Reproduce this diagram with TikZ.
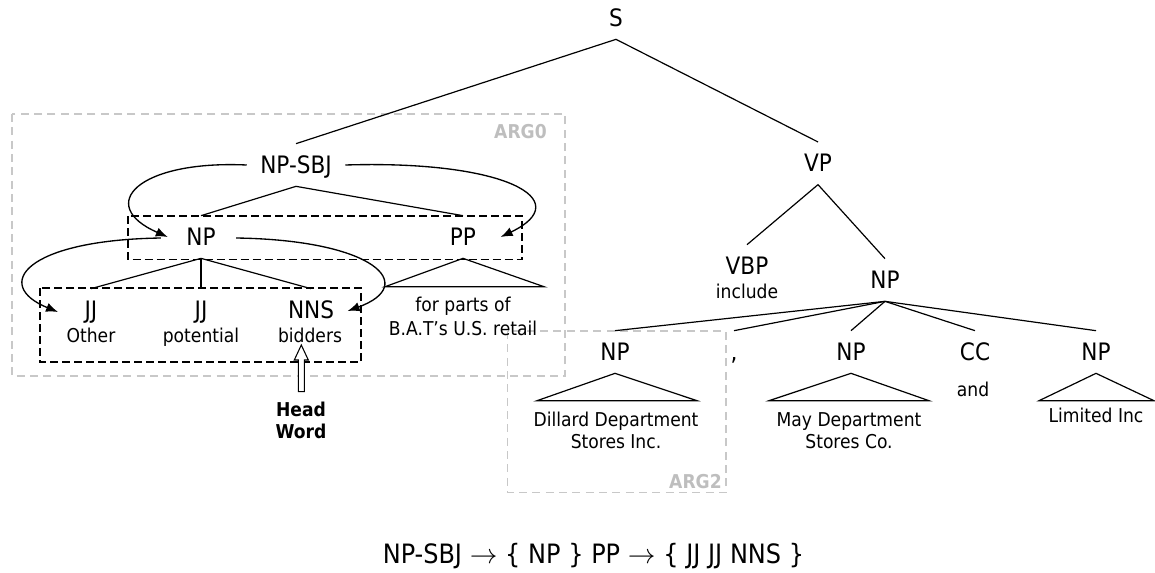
\documentclass[tikz,border=0pt]{standalone}
\usepackage{fontspec}
\setmainfont{DejaVu Sans Condensed}
\usetikzlibrary{arrows.meta,calc}
\definecolor{argtext}{RGB}{190,190,190}
\definecolor{argline}{RGB}{200,200,200}
\begin{document}
\begin{tikzpicture}[x=0.75pt,y=-0.75pt,
  lbl/.style={font=\fontsize{18}{20}\selectfont, text height=13pt, text depth=0pt, inner xsep=10pt, inner ysep=9.3pt},
  word/.style={font=\fontsize{14.3}{16}\selectfont, inner sep=0pt, anchor=base},
  bword/.style={font=\fontsize{14.3}{16}\selectfont\bfseries, inner sep=0pt, anchor=base},
  argl/.style={font=\fontsize{14.3}{16}\selectfont\bfseries, text=argtext, inner sep=0pt, anchor=base east},
  edge/.style={line width=0.9pt},
  argbox/.style={draw=argline, line width=1pt, dash pattern=on 6pt off 4pt},
  grpbox/.style={draw=black, line width=1pt, dash pattern=on 6pt off 3pt},
  arr/.style={line width=1pt, -{Latex[length=9pt,width=7pt]}},
]
\useasboundingbox (0,0) rectangle (1155,572);

% argument frames
\draw[argbox] (12,114) rectangle (565,376);
\draw[argbox] (507.5,331) rectangle (726,492.7);
\node[argl] (arg0) at (547,138.5) {ARG0};
\node[argl] (arg2) at (722,488.5) {ARG2};

% group frames
\draw[grpbox] (128,216) rectangle (522,259.3);
\draw[grpbox] (40,288) rectangle (361,362);

% labels
\node[lbl] (s) at (616,18) {S};
\node[lbl] (npsbj) at (296,165) {NP-SBJ};
\node[lbl] (vp) at (818,163.3) {VP};
\node[lbl] (np) at (201,237) {NP};
\node[lbl] (pp) at (463,237) {PP};
\node[lbl] (jja) at (91,310) {JJ};
\node[lbl] (jjb) at (201,310) {JJ};
\node[lbl] (nns) at (311,310) {NNS};
\node[lbl] (vbp) at (747,266) {VBP};
\node[lbl] (npv) at (885,280) {NP};
\node[lbl] (npa) at (615,352) {NP};
\node[lbl] (comma) at (734,352) {,};
\node[lbl] (npb) at (851,352) {NP};
\node[lbl] (cc) at (975,352) {CC};
\node[lbl] (npc) at (1096,352) {NP};

% words
\node[word] (wother) at (91,342.8) {Other};
\node[word] (wpot) at (201,342.8) {potential};
\node[word] (wbid) at (310,342.8) {bidders};
\node[word] (winc) at (747,298.5) {include};
\node[word] (wpp1) at (463,311.8) {for parts of};
\node[word] (wpp2) at (463,335.1) {B.A.T’s U.S. retail};
\node[word] (wa1) at (616,426.8) {Dillard Department};
\node[word] (wa2) at (616,448.5) {Stores Inc.};
\node[word] (wb1) at (849,426.8) {May Department};
\node[word] (wb2) at (849,448.5) {Stores Co.};
\node[word] (wand) at (973,396.8) {and};
\node[word] (wc1) at (1096,422.5) {Limited Inc};

% tree edges
\draw[edge] (npsbj.north) -- (s.south) -- (vp.north);
\draw[edge] (np.north) -- (npsbj.south) -- (pp.north);
\draw[edge] (np.south) -- (jja.north);
\draw[edge] (np.south) -- (jjb.north);
\draw[edge] (np.south) -- (nns.north);
\draw[edge] (vbp.north) -- (vp.south) -- (npv.north);
\foreach \c in {npa,comma,npb,cc,npc} \draw[edge] (npv.south) -- (\c.north);

% triangles
\coordinate (ppl) at (385,286.7); \coordinate (ppr) at (544,286.7);
\coordinate (tal) at (537,400.7); \coordinate (tar) at (697,400.7);
\coordinate (tbl) at (769,400.7); \coordinate (tbr) at (929,400.7);
\coordinate (tcl) at (1039,400.7); \coordinate (tcr) at (1154,400.7);
\draw[edge] (pp.south) -- (ppl) -- (ppr) -- cycle;
\draw[edge] (npa.south) -- (tal) -- (tar) -- cycle;
\draw[edge] (npb.south) -- (tbl) -- (tbr) -- cycle;
\draw[edge] (npc.south) -- (tcl) -- (tcr) -- cycle;

% head-finding arrows
\draw[arr] (npsbj.west) .. controls (138,160) and (95,205) .. ($(np.west)+(-5,0)$);
\draw[arr] (npsbj.east) .. controls (505,160) and (578,200) .. ($(pp.east)+(11,0)$);
\draw[arr] ($(np.west)+(-12,1)$) .. controls (25,240) and (-8,285) .. ($(jja.west)+(-13,2)$);
\draw[arr] ($(np.east)+(7,1)$) .. controls (375,240) and (419,285) .. ($(nns.east)+(0,1)$);

% head word marker
\node[bword] (head) at (301,416.8) {Head};
\node[bword] (word) at (301,438.5) {Word};
\coordinate (hb) at (301.3,391.7);
\draw[fill=white, line width=0.8pt] (hb) ++(-3,0) -- ++(0,-31.7) -- ++(-4,0) -- ++(7,-15) -- ++(7,15) -- ++(-4,0) -- ++(0,31.7) -- cycle;

% formula
\node[font=\fontsize{20}{22}\selectfont, inner sep=0pt, anchor=base] (rule) at (593.5,563.3)
  {NP-SBJ\hspace{0.29em}$\rightarrow$\hspace{0.29em}\{\hspace{0.29em}NP\hspace{0.29em}\}\hspace{0.29em}PP\hspace{0.29em}$\rightarrow$\hspace{0.29em}\{\hspace{0.29em}JJ\hspace{0.29em}JJ\hspace{0.29em}NNS\hspace{0.29em}\}};
\end{tikzpicture}
\end{document}
